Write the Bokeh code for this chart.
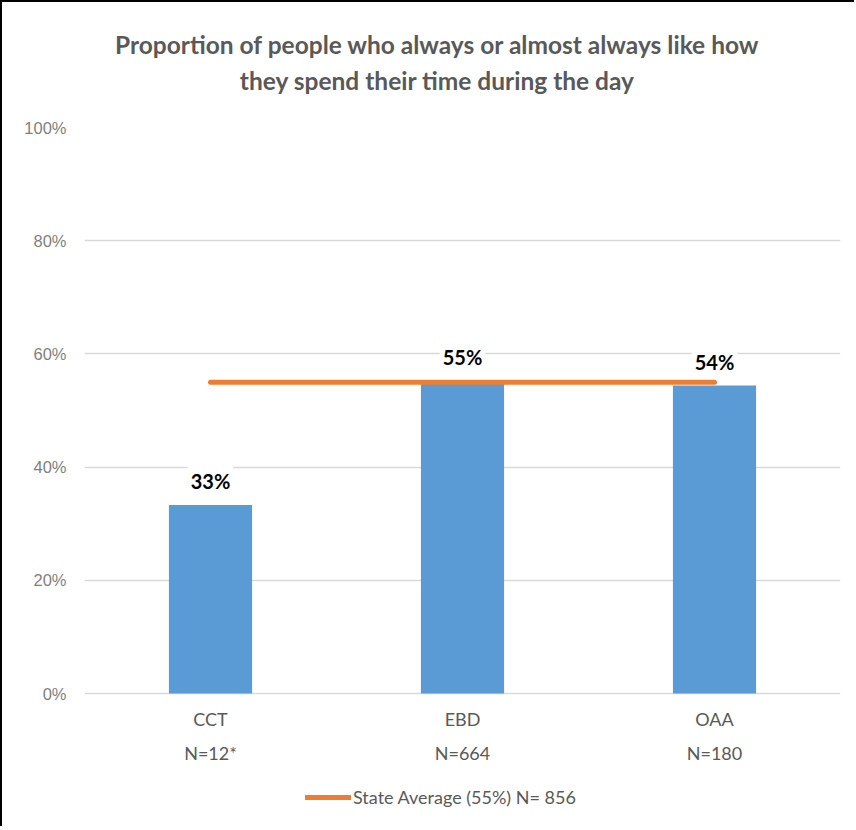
from bokeh.plotting import figure
from bokeh.models import (Range1d, FactorRange, FixedTicker, PrintfTickFormatter,
                          Legend, LegendItem, ColumnDataSource, Title)
from bokeh.core.properties import value
from bokeh.embed import file_html
from bokeh.resources import INLINE

# ---- data ----
categories = ["CCT", "EBD", "OAA"]
sample_sizes = ["N=12*", "N=664", "N=180"]
proportions = [33.3, 55.3, 54.4]
value_labels = ["33%", "55%", "54%"]
state_average = 55.0
state_label = "State Average (55%) N= 856"
y_ticks = [0, 20, 40, 60, 80, 100]
title_lines = ["Proportion of people who always or almost always like how",
               "they spend their time during the day"]

FONT = "Lato"
BAR = "#5B9BD5"
ORANGE = "#ED7D31"
GREY = "#595959"

# layout: the 0-100% band is 566px tall; the frame extends below it to hold
# category labels and the legend
BAND_PX = 566
FRAME_H = 695
y_max = max(y_ticks)
y_min = y_max - FRAME_H * y_max / BAND_PX

p = figure(x_range=FactorRange(*categories, range_padding=0),
           y_range=Range1d(y_min, y_max),
           frame_width=756, frame_height=FRAME_H,
           min_border_left=82, min_border_right=14,
           min_border_top=125, min_border_bottom=4,
           output_backend="svg", toolbar_location=None,
           styles={"border-top": "2px solid black", "border-left": "2px solid black"})

# two-line title, each line centred on its own (added from the frame outwards)
for line_txt, pad_bottom in zip(reversed(title_lines), [33, 5]):
    t = Title(text=line_txt, align="center",
              text_font=FONT, text_font_size="24.5px", text_font_style="bold",
              text_color=GREY, standoff=0,
              padding=dict(left=0, right=50, top=0, bottom=pad_bottom))
    p.add_layout(t, "above")

p.outline_line_color = None
p.background_fill_color = "white"
p.border_fill_color = "white"

src = ColumnDataSource(dict(cat=categories, val=proportions, lab=value_labels,
                            n=sample_sizes, zero=[0] * len(categories)))
p.vbar(x="cat", top="val", width=0.33, source=src, fill_color=BAR, line_color=None)

line = p.line(x=[categories[0], categories[-1]], y=[state_average, state_average],
              line_color=ORANGE, line_width=5, line_cap="round")

# value labels
p.text(x="cat", y="val", text="lab", source=src, text_align="center",
       text_baseline="alphabetic", y_offset=-24,
       text_font=value(FONT), text_font_size="20px", text_font_style="bold",
       text_color="black", background_fill_color="white", padding=3)

# category labels (two lines) under the baseline
for col, off in (("cat", 25), ("n", 59)):
    p.text(x="cat", y="zero", text=col, source=src, text_align="center",
           text_baseline="middle", y_offset=off,
           text_font=value(FONT), text_font_size="18px", text_color=GREY)

# axes
p.xaxis.visible = False
p.yaxis.ticker = FixedTicker(ticks=y_ticks)
p.yaxis.formatter = PrintfTickFormatter(format="%d%%")
p.yaxis.axis_line_color = None
p.yaxis.major_tick_line_color = None
p.yaxis.minor_tick_line_color = None
p.yaxis.major_label_text_font = "Liberation Sans"
p.yaxis.major_label_text_font_size = "16.5px"
p.yaxis.major_label_text_color = "#7F7F7F"
p.yaxis.major_label_standoff = 12

p.xgrid.grid_line_color = None
p.ygrid.grid_line_color = "#D9D9D9"
p.ygrid.grid_line_width = 1.5
p.ygrid.ticker = FixedTicker(ticks=y_ticks)

legend = Legend(items=[LegendItem(label=state_label, renderers=[line])],
                location=(221, 14), orientation="horizontal",
                glyph_width=46, glyph_height=20, label_standoff=2,
                padding=0, margin=0, border_line_color=None,
                background_fill_alpha=0,
                label_text_font=FONT, label_text_font_size="18px",
                label_text_color=GREY)
p.add_layout(legend)

open("out.html", "w").write(file_html(p, INLINE))
